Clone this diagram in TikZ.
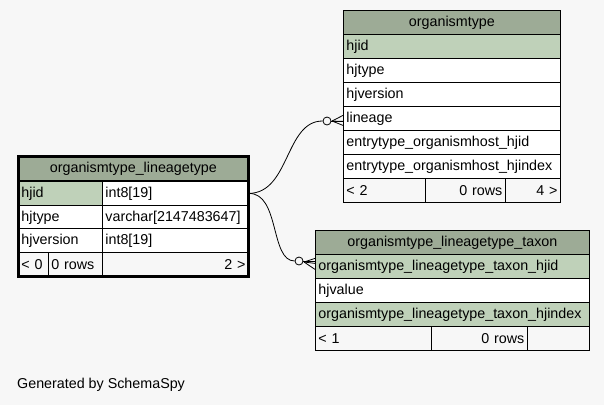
\documentclass[tikz,border=0pt]{standalone}
\usepackage{fontspec}
\setmainfont{Liberation Sans}
\usetikzlibrary{calc}
\definecolor{bgc}{RGB}{247,247,247}
\definecolor{headc}{RGB}{157,171,150}
\definecolor{keyc}{RGB}{191,209,185}
\begin{document}
\begin{tikzpicture}[x=1pt,y=-1pt,
  every node/.style={font=\fontsize{14.3}{16}\selectfont},
  cell/.style={draw=black, line width=0.8pt, anchor=north west, inner xsep=3pt, inner ysep=0pt, minimum height=24pt, align=left, fill=white},
  head/.style={cell, fill=headc, align=center},
  key/.style={cell, fill=keyc},
  foot/.style={cell, fill=bgc},
  rfoot/.style={cell, fill=bgc, align=right},
  conn/.style={draw=black, line width=0.8pt},
  ring/.style={circle, draw=black, line width=0.8pt, fill=bgc, minimum size=8pt, inner sep=0pt}
]
\fill[bgc] (0,0) rectangle (604,405);
\useasboundingbox (0,0) rectangle (604,405);

% organismtype
\node[head, text width=211pt] (ot-h) at (343,10) {organismtype};
\node[key, text width=211pt] (ot-1) at (343,34) {hjid};
\node[cell, text width=211pt] (ot-2) at (343,58) {hjtype};
\node[cell, text width=211pt] (ot-3) at (343,82) {hjversion};
\node[cell, text width=211pt] (ot-4) at (343,106) {lineage};
\node[cell, text width=211pt] (ot-5) at (343,130) {entrytype\_organismhost\_hjid};
\node[cell, text width=211pt] (ot-6) at (343,154) {entrytype\_organismhost\_hjindex};
\node[foot, text width=76pt] (ot-f1) at (343,178) {< 2};
\node[rfoot, text width=74pt] (ot-f2) at (425,178) {0 rows};
\node[rfoot, text width=49pt] (ot-f3) at (505,178) {4 >};

% organismtype_lineagetype
\node[head, text width=224pt] (lt-h) at (18,156) {organismtype\_lineagetype};
\node[key, text width=78pt] (lt-1a) at (18,181) {hjid};
\node[cell, text width=140pt] (lt-1b) at (102,181) {int8[19]};
\node[cell, text width=78pt] (lt-2a) at (18,205) {hjtype};
\node[cell, text width=140pt] (lt-2b) at (102,205) {varchar[2147483647]};
\node[cell, text width=78pt] (lt-3a) at (18,228) {hjversion};
\node[cell, text width=140pt] (lt-3b) at (102,228) {int8[19]};
\node[foot, text width=24pt] (lt-f1) at (18,252) {< 0};
\node[foot, text width=48pt] (lt-f2) at (48,252) {0 rows};
\node[rfoot, text width=140pt] (lt-f3) at (102,252) {2 >};
\draw[line width=3pt] (lt-h.north west) rectangle (lt-f3.south east);

% organismtype_lineagetype_taxon
\node[head, text width=268pt] (tx-h) at (315,230) {organismtype\_lineagetype\_taxon};
\node[key, text width=268pt] (tx-1) at (315,254) {organismtype\_lineagetype\_taxon\_hjid};
\node[cell, text width=268pt] (tx-2) at (315,278) {hjvalue};
\node[key, text width=268pt] (tx-3) at (315,302) {organismtype\_lineagetype\_taxon\_hjindex};
\node[foot, text width=110pt] (tx-f1) at (315,326) {< 1};
\node[rfoot, text width=90pt] (tx-f2) at (431,326) {0 rows};
\node[foot, text width=56pt] (tx-f3) at (527,326) {};

% connectors
\node[ring] (r1) at (327,121) {};
\node[ring] (r2) at (299,261) {};
\coordinate (t1) at (332,121);
\coordinate (t2) at (304,262);
\draw[conn] (lt-1b.east) .. controls (290,193) and (285,121) .. (r1.west);
\draw[conn] (lt-1b.east) .. controls (280,193) and (270,261) .. (r2.west);
\draw[conn] (r1.east) -- (ot-4.west |- r1.east);
\draw[conn] (t1) -- ($(ot-4.west)+(0,-3)$);
\draw[conn] (t1) -- ($(ot-4.west)+(0,3)$);
\draw[conn] (t1) -- ($(ot-4.west)+(0,7)$);
\draw[conn] (r2.east) -- (tx-1.west |- r2.east);
\draw[conn] (t2) -- ($(tx-1.west)+(0,-8)$);
\draw[conn] (t2) -- ($(tx-1.west)+(0,-3)$);
\draw[conn] (t2) -- ($(tx-1.west)+(0,3)$);

\node[anchor=west, inner sep=0pt] (gen) at (17,385) {Generated by SchemaSpy};
\end{tikzpicture}
\end{document}
